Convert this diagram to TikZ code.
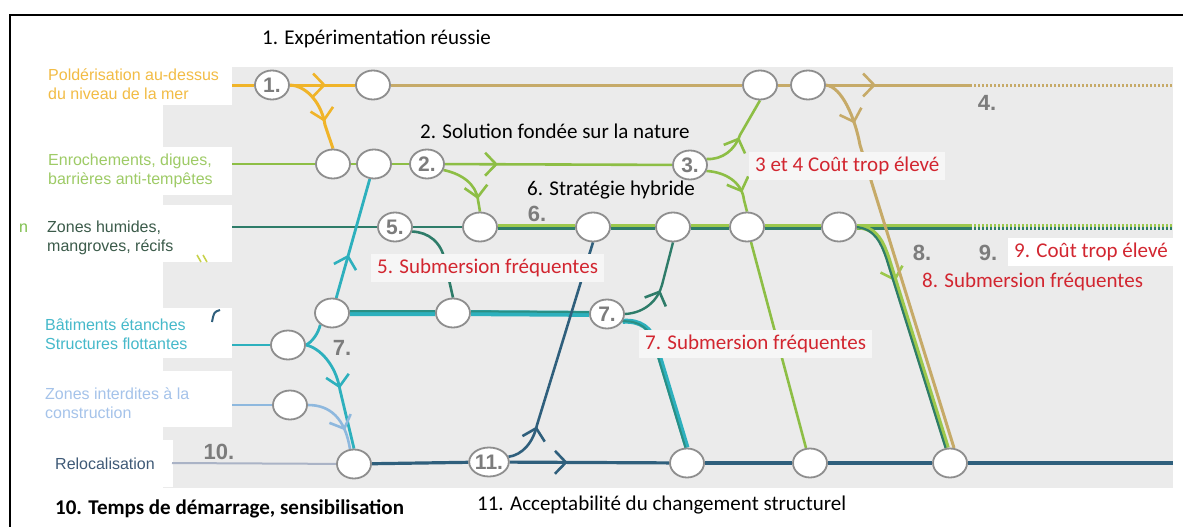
\documentclass[tikz,border=0pt]{standalone}
\usepackage{fontspec}
\setmainfont{Carlito}
\newfontfamily\arialfam{Liberation Sans}
\usetikzlibrary{arrows.meta,decorations.markings,shapes.geometric}
\pgfdeclarelayer{bg}
\pgfdeclarelayer{lines}
\pgfsetlayers{bg,lines,main}
\definecolor{cBg}{HTML}{EBEBEB}
\definecolor{cBox}{HTML}{F6F6F6}
\definecolor{cPolder}{HTML}{F0B429}
\definecolor{cPolderT}{HTML}{F2BC45}
\definecolor{cTan}{HTML}{C6AA68}
\definecolor{cGreen}{HTML}{8DBE45}
\definecolor{cGreenT}{HTML}{9ECB66}
\definecolor{cBand}{HTML}{9CC84C}
\definecolor{cTeal}{HTML}{2E7C69}
\definecolor{cHumT}{HTML}{3B5B4A}
\definecolor{cCyan}{HTML}{2DB0BD}
\definecolor{cCyanT}{HTML}{45B9CA}
\definecolor{cCyanD}{HTML}{2A8F84}
\definecolor{cLBlue}{HTML}{8EB8DE}
\definecolor{cLBlueT}{HTML}{A5C3EA}
\definecolor{cRelocL}{HTML}{AAB3C6}
\definecolor{cReloc}{HTML}{2F5F7C}
\definecolor{cRelocT}{HTML}{3F5A77}
\definecolor{cRed}{HTML}{D22630}
\definecolor{cNum}{HTML}{7C7C7C}
\definecolor{cCirc}{HTML}{8E8E8E}
\definecolor{cYG}{HTML}{C8D24C}
\definecolor{cN}{HTML}{7DBE4B}
\newcommand\fLab{\fontsize{21}{25}\selectfont}
\newcommand\fNum{\arialfam\bfseries\fontsize{21}{23}\selectfont}
\newcommand\fNumB{\arialfam\bfseries\fontsize{22}{24}\selectfont}
\newcommand\fLeft{\arialfam\fontsize{16}{19}\selectfont}
\tikzset{
  circ/.style={ellipse, draw=cCirc, line width=1.8pt, fill=white, minimum width=34pt, minimum height=29pt, inner sep=0pt, text=cNum, font=\fNum},
  lab/.style={inner sep=0pt, anchor=west, font=\fLab},
  redlab/.style={anchor=west, font=\fLab, text=cRed, fill=cBox, inner xsep=6pt, inner ysep=5pt},
  numlab/.style={inner sep=0pt, text=cNum, font=\fNumB},
  leftlab/.style={inner sep=0pt, anchor=west, align=left, font=\fLeft},
  midarrow/.style={postaction={decorate, decoration={markings, mark=at position #1 with {\arrow{Straight Barb[length=11pt,width=23pt,line width=2.6pt]}}}}},
  polderl/.style={draw=cPolder, line width=3pt},
  tanl/.style={draw=cTan, line width=3pt},
  greenl/.style={draw=cGreen, line width=2.6pt},
  teall/.style={draw=cTeal, line width=2.6pt},
  bandg/.style={draw=cBand, line width=6pt},
  bandt/.style={draw=cTeal, line width=2.6pt},
  cyanl/.style={draw=cCyan, line width=2.8pt},
  bandc/.style={draw=cCyan, line width=6pt},
  bandcd/.style={draw=cCyanD, line width=2pt},
  lbluel/.style={draw=cLBlue, line width=2.6pt},
  relocl/.style={draw=cRelocL, line width=2pt},
  relocd/.style={draw=cReloc, line width=3.2pt},
  dotl/.style={dash pattern=on 2pt off 2pt}
}
\begin{document}
\begin{tikzpicture}[x=1pt,y=-1pt]
\useasboundingbox (0,0) rectangle (1183,527);
\begin{pgfonlayer}{bg}
  \fill[cBg] (163,67) rectangle (1173,488);
  \fill[white] (43,60) rectangle (232,105);
  \fill[white] (43,147) rectangle (232,195);
  \fill[white] (43,205) rectangle (232,262);
  \fill[white] (43,308) rectangle (232,358);
  \fill[white] (43,371) rectangle (232,427);
  \fill[white] (43,440) rectangle (173,487);
\end{pgfonlayer}
\draw[line width=2.5pt] (10,527) -- (10,15) -- (1183,15);

% left labels
\node[leftlab, text=cPolderT] (L1) at (48,84) {Poldérisation au-dessus\\du niveau de la mer};
\node[leftlab, text=cGreenT] (L2) at (48,171) {Enrochements, digues,\\barrières anti-tempêtes};
\node[leftlab, text=cN] (Ln) at (19,228) {n};
\node[leftlab, text=cHumT] (L3) at (47,238) {Zones humides,\\mangroves, récifs};
\node[leftlab, text=cCyanT] (L4) at (45,334) {Bâtiments étanches\\Structures flottantes};
\node[leftlab, text=cLBlueT] (L5) at (45,403) {Zones interdites à la\\construction};
\node[leftlab, text=cRelocT] (L6) at (55,464) {Relocalisation};
\draw[cYG, line width=1.6pt] (197,255) -- (201,262) (203,255) -- (207,262);
\draw[cReloc, line width=2pt] (220,310) .. controls (214,312) .. (212,322);

% circles
\node[circ] (c1) at (272,85) {1.};
\node[circ] (a1) at (373,85) {};
\node[circ] (a2) at (760,85) {};
\node[circ] (a3) at (808,85) {};
\node[circ] (b1) at (333,164) {};
\node[circ] (b2) at (374,164) {};
\node[circ] (c2) at (427,164) {2.};
\node[circ] (c3) at (690,165) {3.};
\node[circ] (d5) at (395,227) {5.};
\node[circ] (d1) at (480,227) {};
\node[circ] (d2) at (593,227) {};
\node[circ] (d3) at (673,227) {};
\node[circ] (d4) at (747,227) {};
\node[circ] (d6) at (839,227) {};
\node[circ] (e1) at (332,313) {};
\node[circ] (e2) at (453,313) {};
\node[circ] (c7) at (607,314) {7.};
\node[circ] (f1) at (288,345) {};
\node[circ] (g1) at (290,405) {};
\node[circ] (h1) at (354,464) {};
\node[circ] (c11) at (489,462) {11.};
\node[circ] (h2) at (687,463) {};
\node[circ] (h3) at (810,463) {};
\node[circ] (h4) at (950,463) {};

\coordinate (p0) at (232,85);
\coordinate (p1) at (970,85);
\coordinate (p2) at (1173,85);
\coordinate (q0) at (232,164);
\coordinate (r0) at (232,227);
\coordinate (r1) at (970,227);
\coordinate (r2) at (1173,227);
\coordinate (s0) at (232,345);
\coordinate (u0) at (232,405);
\coordinate (v0) at (172,463);
\coordinate (v1) at (1173,463);

% annotations
\node[lab] (t1) at (262,39) {1. Expérimentation réussie};
\node[lab] (t2) at (420,131) {2. Solution fondée sur la nature};
\node[lab] (t6) at (527,190) {6. Stratégie hybride};
\node[lab] (t11) at (477,505) {11. Acceptabilité du changement structurel};
\node[lab, font=\fLab\bfseries] (t10) at (55,509) {10. Temps de démarrage, sensibilisation};
\node[redlab] (r34) at (749,166) {3 et 4 Coût trop élevé};
\node[redlab] (r5) at (371,268) {5. Submersion fréquentes};
\node[redlab] (r7) at (639,344) {7. Submersion fréquentes};
\node[lab, text=cRed] (r8) at (922,282) {8. Submersion fréquentes};
\node[redlab, fill=white, minimum height=28pt] (r9) at (1008,252) {9. Coût trop élevé};
\node[numlab] (n4) at (987,103) {4.};
\node[numlab] (n6) at (537,214) {6.};
\node[numlab] (n7) at (342,348) {7.};
\node[numlab] (n8) at (922,253) {8.};
\node[numlab] (n9) at (988,253) {9.};
\node[numlab] (n10) at (219,452) {10.};

\begin{pgfonlayer}{lines}
  % row 1
  \draw[polderl] (p0) -- (c1);
  \draw[polderl, midarrow=36pt] (c1) -- (a1);
  \draw[tanl] (a1) -- (a2) -- (a3);
  \draw[tanl, midarrow=50pt] (a3) -- (p1);
  \draw[tanl, dotl] (p1) -- (p2);
  \draw[polderl, midarrow=54pt] (c1.east) .. controls (308,86) and (322,105) .. (325,125) -- (b1.north);
  % row 2
  \draw[greenl] (q0) -- (b1);
  \draw[greenl] (b1) -- (b2);
  \draw[greenl] (b2) -- (c2);
  \draw[greenl, midarrow=53pt] (c2) -- (c3);
  \draw[greenl, midarrow=48pt] (c2.-20) .. controls (462,174) and (476,184) .. (478,200) -- (d1.north);
  \draw[greenl, midarrow=42pt] (c3.20) .. controls (722,160) and (735,150) .. (740,135) -- (a2.south);
  \draw[greenl, midarrow=44pt] (c3.-20) .. controls (725,172) and (742,182) .. (744,200) -- (d4.north);
  % row 3
  \draw[teall] (r0) -- (d5) -- (d1);
  \draw[teall] (d5.-15) .. controls (428,232) and (442,242) .. (445,262) -- (e2.north);
  \draw[bandg] (d1) -- (d2) -- (d3) -- (d4) -- (d6) -- (r1);
  \draw[bandt, transform canvas={yshift=-1.7pt}] (d1) -- (d2) -- (d3) -- (d4) -- (d6) -- (r1);
  \draw[bandg, dotl] (r1) -- (r2);
  \draw[bandt, dotl, transform canvas={yshift=-1.7pt}] (r1) -- (r2);
  \draw[bandg, line width=5pt, midarrow=72pt] (d6.east) .. controls (877,227) and (883,244) .. (888,258) -- (h4.100);
  \draw[bandt, line width=2.2pt, transform canvas={xshift=-1.8pt}] (d6.east) .. controls (877,228) and (883,244) .. (888,258) -- (h4.100);
  \draw[tanl, midarrow=50pt] (a3.east) .. controls (842,87) and (855,118) .. (860,145) -- (h4.75);
  \draw[greenl] (d4) -- (h3);
  % row 4
  \draw[cyanl] (s0) -- (f1);
  \draw[cyanl] (f1.east) .. controls (312,342) and (318,334) .. (e1.-135);
  \draw[cyanl, midarrow=58pt] (f1.east) .. controls (320,348) and (336,365) .. (340,390) -- (h1.north);
  \draw[cyanl, midarrow=45pt] (e1) -- (b2);
  \draw[bandc] (e1) -- (e2) -- (c7);
  \draw[bandcd, transform canvas={yshift=1.8pt}] (e1) -- (e2) -- (c7);
  \draw[teall, line width=2.4pt, midarrow=45pt] (c7.east) .. controls (645,313) and (658,300) .. (662,285) -- (d3.south);
  \draw[bandc, line width=5pt] (c7.-25) .. controls (640,320) and (652,328) .. (656,345) -- (h2.north);
  \draw[bandcd, transform canvas={xshift=-1.6pt}] (c7.-25) .. controls (640,320) and (652,328) .. (656,345) -- (h2.north);
  % row 5
  \draw[lbluel] (u0) -- (g1);
  \draw[lbluel, midarrow=48pt] (g1.east) .. controls (330,405) and (345,418) .. (h1.105);
  % row 6
  \draw[relocl] (v0) -- (h1);
  \draw[relocd] (h1) -- (c11);
  \draw[relocd, midarrow=58pt] (c11) -- (h2);
  \draw[relocd] (h2) -- (h3) -- (h4) -- (v1);
  \draw[relocd, line width=2.6pt, midarrow=44pt] (c11.15) .. controls (522,455) and (533,443) .. (537,425) -- (d2.south);
\end{pgfonlayer}
\end{tikzpicture}
\end{document}
